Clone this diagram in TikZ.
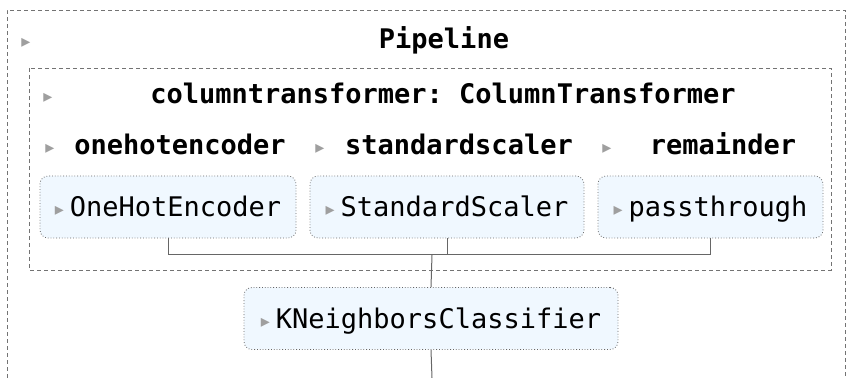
\documentclass[tikz,border=0pt]{standalone}
\usepackage{fontspec}
\setmonofont{DejaVu Sans Mono}
\newfontfamily\trifont{DejaVu Sans}
\usepackage{tikz}
\usetikzlibrary{calc}
\definecolor{estfill}{HTML}{F0F8FF}
\newcommand{\tri}{\raisebox{0.6pt}{\trifont\color{gray!75}\fontsize{9}{10}\selectfont ▸}}

\begin{document}
\begin{tikzpicture}[x=0.5pt, y=-0.5pt,
    every node/.style={font=\ttfamily\fontsize{13.5}{16}\selectfont, inner sep=0pt,
      text height=10pt, text depth=3pt},
    head/.style={font=\ttfamily\bfseries\fontsize{13.5}{16}\selectfont},
    estbox/.style={draw=black!60, densely dotted, fill=estfill, rounded corners=4pt,
      minimum height=31pt, text=black, text height=11.5pt, text depth=1.5pt},
    outerbox/.style={draw=black!55, dash pattern=on 2pt off 1.5pt, line width=0.4pt},
    conn/.style={draw=black!60, line width=0.5pt}]
    \useasboundingbox (0,0) rectangle (848,378);
    \draw[outerbox] (7,378) |- (845,10) -- (845,378);
    \draw[outerbox] (29,68) rectangle (831,270);
    \node (tp) at (26,42) {\tri};
    \node[head] (pipe) at (444,42) {Pipeline};
    \node (tc) at (48,97) {\tri};
    \node[head] (ct) at (443,97) {columntransformer: ColumnTransformer};
    \node (t1) at (50,148) {\tri};
    \node[head] (h1) at (180,148) {onehotencoder};
    \node (t2) at (320,148) {\tri};
    \node[head] (h2) at (459,148) {standardscaler};
    \node (t3) at (607,148) {\tri};
    \node[head] (h3) at (723,148) {remainder};
    \node[estbox, minimum width=128pt] (ohe) at (168,207) {\tri\hspace{3pt}OneHotEncoder};
    \node[estbox, minimum width=137pt] (ss) at (447,207) {\tri\hspace{3pt}StandardScaler};
    \node[estbox, minimum width=112.5pt] (pt) at (710.5,207) {\tri\hspace{3pt}passthrough};
    \node[estbox, minimum width=187pt] (knn) at (431,318.5) {\tri\hspace{3pt}KNeighborsClassifier};
    \coordinate (join) at (432,255);
    \coordinate (bot) at (432,378);
    \draw[conn] (ohe.south) |- (pt.south |- join) -- (pt.south);
    \draw[conn] (ss.south) -- (ss.south |- join);
    \draw[conn] (join) -- (knn.north);
    \draw[conn] (knn.south) -- (bot);
\end{tikzpicture}
\end{document}
